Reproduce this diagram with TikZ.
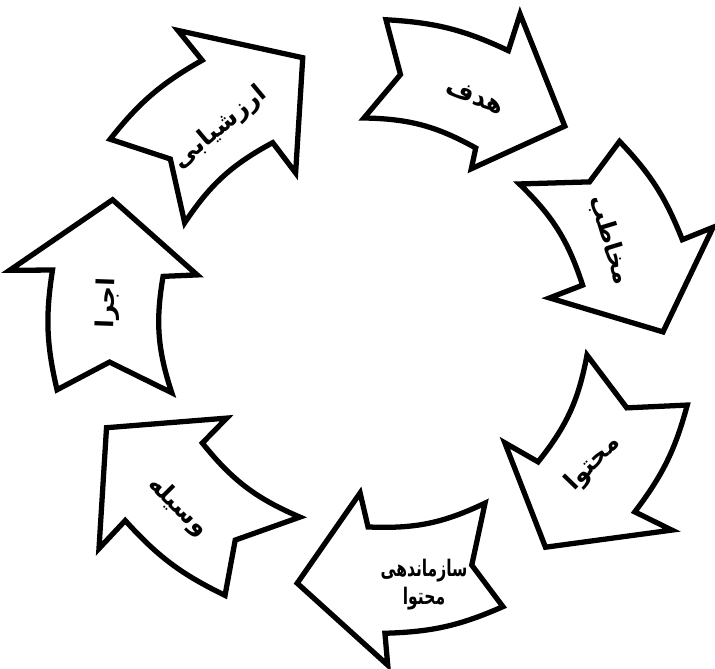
\documentclass[tikz,border=0pt]{standalone}
\usepackage{fontspec}
\usepackage{tikz}
\TeXXeTstate=1
\newfontfamily\arabicfont[Script=Arabic]{DejaVu Sans}
\definecolor{inkmain}{HTML}{000000}
\tikzset{
  arrowshape/.style={draw=inkmain,fill=white,line width=3pt,line join=miter},
  steplabel/.style={font=\arabicfont\bfseries\fontsize{14}{17}\selectfont,align=center,inner sep=0pt}
}
% #1 tail outer, #2 notch, #3 tail inner, #4/#5 inner wing, #6 tip, #7/#8 outer wing
\newcommand{\cyclearrow}[8]{%
  \draw[arrowshape] (#2) -- (#3) to[bend left=14] (#4) -- (#5) -- (#6)
    -- (#7) -- (#8) to[bend right=11] (#1) -- cycle;}

\begin{document}
\begin{tikzpicture}[x=0.02cm,y=0.02cm]
  \useasboundingbox (-364,-334) rectangle (351,334);
  \cyclearrow{86:315}{82:262}{90:216}{59:217}{57:197}{46:289}{64:356}{63:318}
  \cyclearrow{37:320}{34:272}{44:216}{12.6:224}{11:189}{0.4:299}{17:365}{16.5:332}
  \cyclearrow{-12.4:331}{-15.7:273}{-5.4:224}{-36.3:216}{-37.7:178}{-49.6:280}{-32.5:365}{-33.3:324}
  \cyclearrow{-63:306}{-65:255}{-54.4:208}{-88.8:193}{-91.4:159}{-105:258}{-85.9:332}{-86:300}
  \cyclearrow{-118:296}{-122:243}{-109.3:194}{-146:195}{-148.5:161}{-160:274}{-141:341}{-142:303}
  \cyclearrow{190.3:312}{186.3:256}{197:201}{164:209}{160.5:177}{151.9:285}{169.8:360}{168.4:318}
  \cyclearrow{142.5:320}{137.9:261}{148.2:211}{115.5:212}{113:175}{102.5:283}{121.5:356}{120.6:318}
  % labels
  \node[steplabel,rotate=-22] (hadaf) at (111,237) {\beginR هدف\endR};
  \node[steplabel,rotate=-73] (mokhatab) at (246,94) {\beginR مخاطب\endR};
  \node[steplabel,rotate=46] (mohtava) at (229,-129) {\beginR محتوا\endR};
  \node[steplabel,font=\arabicfont\bfseries\fontsize{13}{16}\selectfont,xscale=0.68] (sazmandehi) at (60,-251) {\beginR سازماندهی\endR\\\beginR محتوا\endR};
  \node[steplabel,rotate=-45] (vasileh) at (-186,-173) {\beginR وسیله\endR};
  \node[steplabel,rotate=88] (ejra) at (-256,31) {\beginR اجرا\endR};
  \node[steplabel,rotate=40] (arzeshyabi) at (-144,206) {\beginR ارزشیابی\endR};
\end{tikzpicture}
\end{document}
